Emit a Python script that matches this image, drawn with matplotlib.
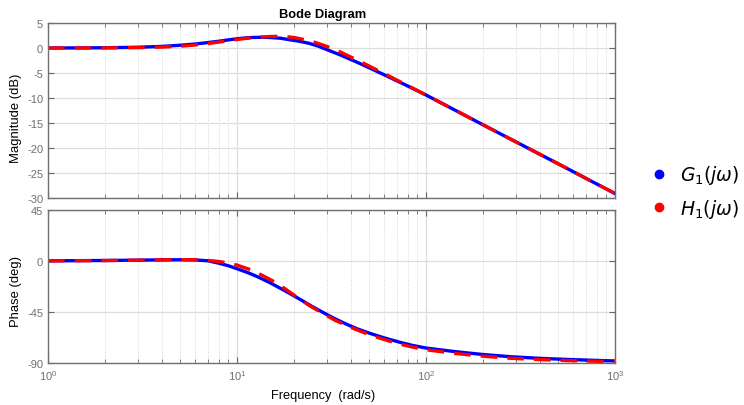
import matplotlib
matplotlib.use("Agg")
import matplotlib.pyplot as plt
from matplotlib.lines import Line2D
from matplotlib.ticker import LogLocator, NullFormatter, MultipleLocator

plt.rcParams['font.family'] = ['Liberation Sans', 'DejaVu Sans']
plt.rcParams['axes.unicode_minus'] = False

# ---- data ----
w_g_mag = [1, 1.5, 2, 3, 4, 5, 6, 7, 8, 9, 10, 11, 12, 13.5, 15, 17, 19, 21, 24, 27, 30, 35, 40, 45, 50,
           60, 70, 80, 100, 130, 200, 300, 500, 700, 1000]
g_mag = [0.0, 0.02, 0.05, 0.15, 0.32, 0.55, 0.8, 1.08, 1.35, 1.62, 1.85, 2.0, 2.1, 2.15, 2.1, 1.95, 1.65,
         1.4, 0.95, 0.35, -0.35, -1.35, -2.3, -3.15, -3.95, -5.35, -6.55, -7.6, -9.4, -11.65, -15.35,
         -18.8, -23.15, -26.05, -29.1]

w_h_mag = [1, 2, 3, 4, 5, 6, 7, 8, 9, 10, 11, 12, 13.5, 15, 16.5, 18, 20, 23, 26, 30, 35, 40, 45, 50, 60,
           70, 80, 100, 130, 200, 300, 500, 700, 1000]
h_mag = [0.0, 0.02, 0.08, 0.18, 0.35, 0.6, 0.88, 1.18, 1.45, 1.7, 1.9, 2.05, 2.2, 2.3, 2.33, 2.28, 2.1,
         1.65, 1.1, 0.3, -0.75, -1.8, -2.75, -3.6, -5.1, -6.4, -7.5, -9.4, -11.65, -15.35, -18.8, -23.15,
         -26.05, -29.1]

w_g_ph = [1, 2, 3, 4, 5, 6, 7, 8, 9, 10, 11.5, 13, 15, 17, 19, 22, 25, 28.6, 33, 38, 43, 50, 60, 72.7, 85,
          100, 143, 200, 283, 400, 564, 800, 1000]
g_ph = [0.15, 0.45, 0.75, 1.0, 1.1, 0.9, 0.2, -1.9, -4.2, -6.8, -10.5, -14.3, -19.3, -24.2, -28.6, -34.7,
        -40.2, -45.5, -51.0, -55.8, -59.7, -63.6, -67.8, -71.7, -74.5, -76.8, -80.0, -82.5, -84.5, -85.9,
        -86.9, -87.7, -88.2]

w_h_ph = [1, 2, 3, 4, 5, 6, 7, 8, 9, 10, 11.8, 13.5, 15.9, 18, 21, 24.5, 28.6, 33, 38.6, 45, 52.5, 62,
          72.7, 85, 102, 143, 200, 283, 400, 564, 800, 1000]
h_ph = [0.1, 0.4, 0.7, 1.0, 1.2, 1.1, 0.5, -0.4, -1.8, -3.6, -7.7, -12.4, -18.6, -24.6, -32.5, -40.0, -46.5,
        -52.3, -57.5, -62.0, -66.2, -70.0, -73.3, -76.0, -78.5, -81.6, -84.0, -85.9, -87.0, -87.9, -88.5,
        -88.8]

labels = [r'$G_1(j\omega)$', r'$H_1(j\omega)$']
colors = ['#0000ff', '#ff0000']

W, H = 744, 406
fig = plt.figure(figsize=(W / 100, H / 100), dpi=100)
ax1 = fig.add_axes([48 / W, 1 - 199 / H, 567 / W, 175 / H])
ax2 = fig.add_axes([48 / W, 1 - 364 / H, 567 / W, 153 / H])

for ax in (ax1, ax2):
    ax.set_xscale('log')
    ax.set_xlim(1, 1000)
    ax.xaxis.set_major_locator(LogLocator(base=10, numticks=10))
    ax.xaxis.set_minor_locator(LogLocator(base=10, subs=range(2, 10), numticks=100))
    ax.xaxis.set_minor_formatter(NullFormatter())
    ax.grid(True, which='major', color='#dddddd', linewidth=0.9, linestyle='-')
    ax.grid(True, which='minor', axis='x', color='#d4d4d4', linewidth=0.7, linestyle=':')
    ax.tick_params(which='both', direction='in', top=True, right=True, colors='#666666',
                   labelcolor='#707070', labelsize=8, length=3)
    ax.tick_params(which='major', length=4)
    for s in ax.spines.values():
        s.set_color('#707070')
        s.set_linewidth(1.0)
    ax.set_axisbelow(True)

dash = (0, (5, 3))
ax1.plot(w_g_mag, g_mag, color=colors[0], linewidth=2.4)
ax1.plot(w_h_mag, h_mag, color=colors[1], linewidth=2.4, linestyle=dash)
ax2.plot(w_g_ph, g_ph, color=colors[0], linewidth=2.4)
ax2.plot(w_h_ph, h_ph, color=colors[1], linewidth=2.4, linestyle=dash)

ax1.set_ylim(-30, 5)
ax1.yaxis.set_major_locator(MultipleLocator(5))
ax1.tick_params(axis='x', labelbottom=False)
ax2.set_ylim(-90, 45)
ax2.set_yticks([-90, -45, 0, 45])

ax1.set_title('Bode Diagram', fontsize=9.3, fontweight='bold', pad=4, x=0.485)
ax1.set_ylabel('Magnitude (dB)', fontsize=9.4, labelpad=2)
ax1.yaxis.set_label_coords(-0.045, 0.46)
ax2.set_ylabel('Phase (deg)', fontsize=9.4, labelpad=2)
ax2.yaxis.set_label_coords(-0.045, 0.475)
ax2.set_xlabel('Frequency  (rad/s)', fontsize=9.2, labelpad=8)
ax2.xaxis.set_label_coords(0.485, -0.17)

handles = [Line2D([], [], marker='o', linestyle='none', color=c, markersize=6) for c in colors]
fig.legend(handles, labels, loc='center left', bbox_to_anchor=(642 / W, 1 - 192.5 / H),
           frameon=False, fontsize=13.5, handletextpad=0.6, labelspacing=0.55, borderaxespad=0,
           handlelength=1.0)

fig.savefig('out.png', dpi=100)
